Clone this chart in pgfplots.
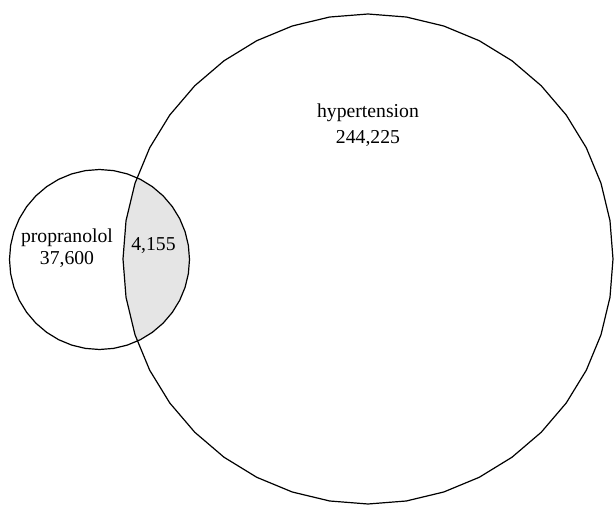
\documentclass[border=0pt]{standalone}
\usepackage{fontspec}
\setmainfont{Liberation Serif}
\usepackage{pgfplots}
\pgfplotsset{compat=1.18}
\begin{document}
\begin{tikzpicture}
\begin{axis}[
  scale only axis, width=616pt, height=506pt,
  xmin=0, xmax=616, ymin=0, ymax=506, y dir=reverse,
  hide axis, clip=false,
]
\path (axis cs:0,0) rectangle (axis cs:616,506);
% intersection (lens)
\addplot[draw=none, fill=black!10] coordinates {
(137.06,177.7) (140.36,179.31) (152.40,186.69) (163.14,195.86) (172.31,206.60) (179.69,218.64) (185.10,231.69) (188.39,245.42)
(189.5,259.5) (188.39,273.58) (185.10,287.31) (179.69,300.36) (172.31,312.40) (163.14,323.14) (152.40,332.31) (140.36,339.69)
(137.06,341.3) (134.99,334.71) (126.02,297.33) (123,259) (126.02,220.67) (134.99,183.29) (137.06,177.7)
} -- cycle;
% small circle
\addplot[black, line width=1.2pt] coordinates {
(189.5,259.5) (188.39,273.58) (185.10,287.31) (179.69,300.36) (172.31,312.40) (163.14,323.14) (152.40,332.31) (140.36,339.69) (127.31,345.10) (113.58,348.39) (99.5,349.5)
(85.42,348.39) (71.69,345.10) (58.64,339.69) (46.60,332.31) (35.86,323.14) (26.69,312.40) (19.31,300.36) (13.90,287.31) (10.61,273.58) (9.5,259.5)
(10.61,245.42) (13.90,231.69) (19.31,218.64) (26.69,206.60) (35.86,195.86) (46.60,186.69) (58.64,179.31) (71.69,173.90) (85.42,170.61) (99.5,169.5)
(113.58,170.61) (127.31,173.90) (140.36,179.31) (152.40,186.69) (163.14,195.86) (172.31,206.60) (179.69,218.64) (185.10,231.69) (188.39,245.42)
} -- cycle;
% big circle
\addplot[black, line width=1.2pt] coordinates {
(613,259) (609.98,297.33) (601.01,334.71) (586.30,370.23) (566.21,403.01) (541.24,432.24) (512.01,457.21) (479.23,477.30) (443.71,492.01) (406.33,500.98) (368,504)
(329.67,500.98) (292.29,492.01) (256.77,477.30) (223.99,457.21) (194.76,432.24) (169.79,403.01) (149.70,370.23) (134.99,334.71) (126.02,297.33) (123,259)
(126.02,220.67) (134.99,183.29) (149.70,147.77) (169.79,114.99) (194.76,85.76) (223.99,60.79) (256.77,40.70) (292.29,25.99) (329.67,17.02) (368,14)
(406.33,17.02) (443.71,25.99) (479.23,40.70) (512.01,60.79) (541.24,85.76) (566.21,114.99) (586.30,147.77) (601.01,183.29) (609.98,220.67)
} -- cycle;
\begin{scope}[every node/.style={anchor=base, inner sep=0pt, font=\fontsize{19.7}{22}\selectfont}]
\node at (axis cs:67,242) {propranolol};
\node at (axis cs:67,264) {37,600};
\node at (axis cs:153.5,250) {4,155};
\node at (axis cs:368,117) {hypertension};
\node at (axis cs:368,143) {244,225};
\end{scope}
\end{axis}
\end{tikzpicture}
\end{document}
